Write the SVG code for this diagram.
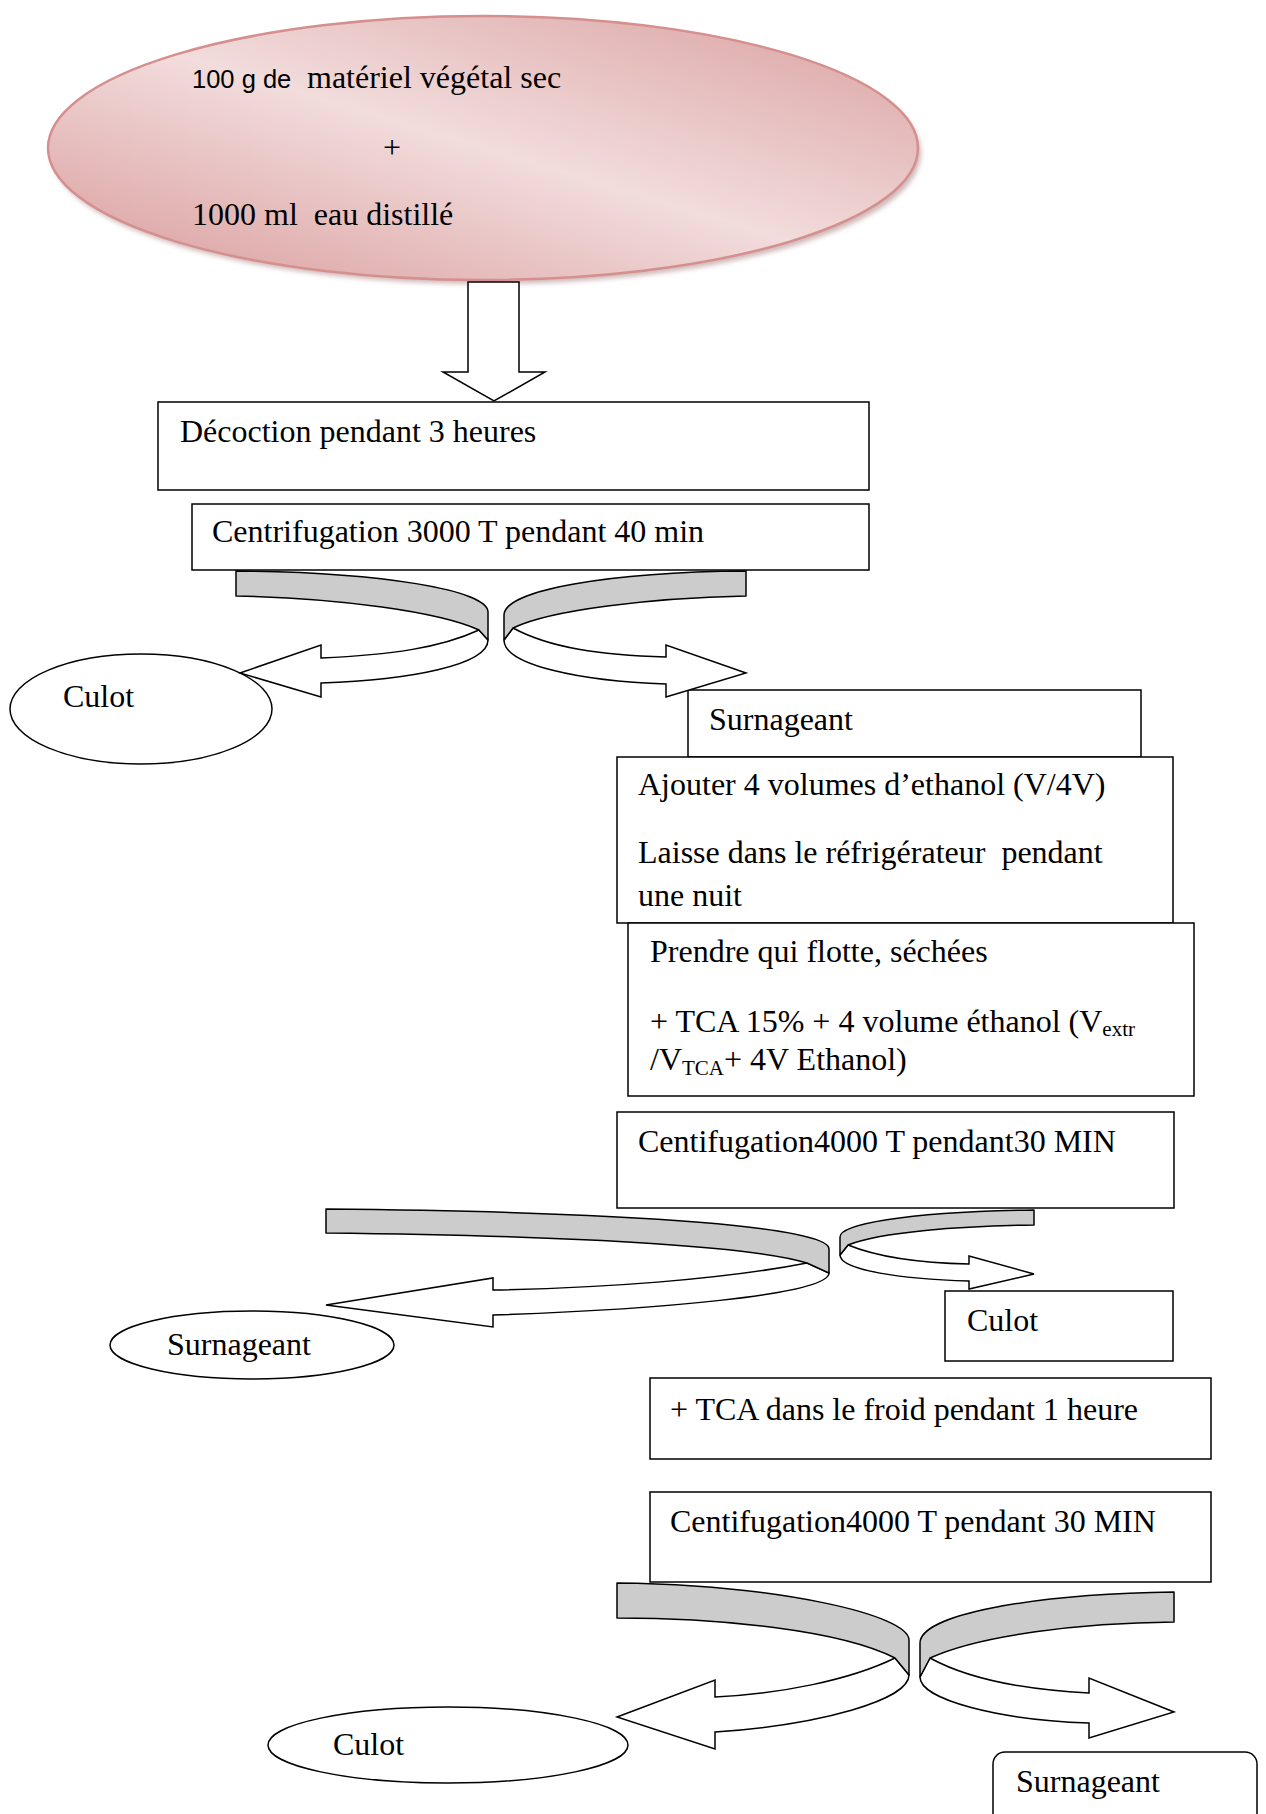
<svg xmlns="http://www.w3.org/2000/svg" width="1266" height="1814" viewBox="0 0 1266 1814">
<style>
text{font-family:"Liberation Serif","Times New Roman",serif;font-size:32px;fill:#000;white-space:pre}
.sans{font-family:"Liberation Sans",Arial,sans-serif;font-size:25.5px}
.sub{font-size:21px}
.box{fill:#fff;stroke:#000;stroke-width:1.5}
.band{fill:#cccccc;stroke:#000;stroke-width:1.5;stroke-linejoin:round}
.arr{fill:#fff;stroke:#000;stroke-width:1.5;stroke-linejoin:miter}
</style>
<defs>
<linearGradient id="pink" x1="0" y1="1" x2="1" y2="0">
<stop offset="0" stop-color="#d99a9a"/>
<stop offset="0.5" stop-color="#f2dcdc"/>
<stop offset="1" stop-color="#daa0a0"/>
</linearGradient>
<filter id="blur" x="-10%" y="-10%" width="120%" height="130%"><feGaussianBlur stdDeviation="2.5"/></filter>
</defs>
<rect width="1266" height="1814" fill="#fff"/>
<g id="start">
<ellipse cx="486" cy="153" rx="435" ry="131" fill="#a97c7b" opacity="0.55" filter="url(#blur)"/>
<ellipse cx="483" cy="148" rx="435" ry="132" fill="url(#pink)" stroke="#d58f8e" stroke-width="2.5"/>
<text x="192" y="88"><tspan class="sans">100 g de</tspan></text>
<text x="307" y="88">matériel végétal sec</text>
<text x="383" y="158">+</text>
<text x="192" y="225">1000 ml  eau distillé</text>
</g>
<g id="decoction">
<rect class="box" x="158" y="402" width="711" height="88"/>
<text x="180" y="442">Décoction pendant 3 heures</text>
</g>
<g id="centri1">
<rect class="box" x="192" y="504" width="677" height="66"/>
<text x="212" y="542">Centrifugation 3000 T pendant 40 min</text>
</g>
<g id="culot1">
<ellipse class="box" cx="141" cy="709" rx="131" ry="55"/>
<text x="63" y="707">Culot</text>
</g>
<g id="surn1">
<rect class="box" x="688" y="690" width="453" height="67"/>
<text x="709" y="730">Surnageant</text>
</g>
<g id="ajouter">
<rect class="box" x="617" y="757" width="556" height="166"/>
<text x="638" y="795">Ajouter 4 volumes d’ethanol (V/4V)</text>
<text x="638" y="863">Laisse dans le réfrigérateur  pendant</text>
<text x="638" y="906">une nuit</text>
</g>
<g id="prendre">
<rect class="box" x="628" y="923" width="566" height="173"/>
<text x="650" y="962">Prendre qui flotte, séchées</text>
<text x="650" y="1032">+ TCA 15% + 4 volume éthanol (V<tspan class="sub" dy="4">extr</tspan></text>
<text x="650" y="1070">/V<tspan class="sub" dy="5">TCA</tspan><tspan dy="-5">+ 4V Ethanol)</tspan></text>
</g>
<g id="centri2">
<rect class="box" x="617" y="1112" width="557" height="96"/>
<text x="638" y="1152">Centifugation4000 T pendant30 MIN</text>
</g>
<g id="surn2">
<ellipse class="box" cx="252" cy="1345" rx="142" ry="34"/>
<text x="167" y="1355">Surnageant</text>
</g>
<g id="culot2">
<rect class="box" x="945" y="1291" width="228" height="70"/>
<text x="967" y="1331">Culot</text>
</g>
<g id="tca">
<rect class="box" x="650" y="1378" width="561" height="81"/>
<text x="670" y="1420">+ TCA dans le froid pendant 1 heure</text>
</g>
<g id="centri3">
<rect class="box" x="650" y="1492" width="561" height="90"/>
<text x="670" y="1532">Centifugation4000 T pendant 30 MIN</text>
</g>
<g id="culot3">
<ellipse class="box" cx="448" cy="1745" rx="180" ry="38"/>
<text x="333" y="1755">Culot</text>
</g>
<g id="surn3">
<rect class="box" x="993" y="1752" width="264" height="90" rx="12" ry="12"/>
<text x="1016" y="1792">Surnageant</text>
</g>
<g id="connectors">
<path class="arr" d="M468,282 L519,282 L519,372 L545,372 L494,401 L443,372 L468,372 Z"/>
<path class="arr" d="M479,630 C440,648 390,655 321,658 L321,645 L240,673 L321,697 L321,683 C410,680 488,665 488,640 Z"/>
<path class="band" d="M236,571 C380,572 488,590 488,612 L488,640 L479,630 C440,612 340,598 236,596 Z"/>
<path class="arr" d="M513,628 C550,648 600,655 666,657 L666,645 L746,673 L666,697 L666,684 C580,681 504,665 504,640 Z"/>
<path class="band" d="M746,571 C610,572 504,590 504,615 L504,640 L513,628 C550,610 650,598 746,596 Z"/>
<path class="arr" d="M807,1263 C720,1280 600,1288 493,1290 L493,1278 L326,1305 L493,1327 L493,1315 C650,1310 829,1295 829,1273 Z"/>
<path class="band" d="M326,1209 C650,1212 829,1228 829,1249 L829,1273 L807,1263 C760,1248 600,1236 326,1233 Z"/>
<path class="arr" d="M848,1245 C880,1258 920,1263 969,1264 L969,1256 L1034,1274 L969,1289 L969,1281 C900,1279 840,1270 840,1255 Z"/>
<path class="band" d="M1034,1210 C900,1212 840,1225 840,1237 L840,1255 L848,1245 C880,1232 960,1226 1034,1225 Z"/>
<path class="arr" d="M895,1658 C850,1680 780,1694 715,1697 L715,1680 L617,1717 L715,1749 L715,1732 C820,1725 909,1700 909,1675 Z"/>
<path class="band" d="M617,1583 C780,1585 909,1615 909,1640 L909,1675 L895,1658 C840,1630 720,1618 617,1618 Z"/>
<path class="arr" d="M930,1658 C970,1680 1030,1690 1089,1693 L1089,1678 L1174,1712 L1089,1738 L1089,1723 C1000,1720 920,1700 920,1677 Z"/>
<path class="band" d="M1174,1592 C1030,1594 920,1615 920,1643 L920,1677 L930,1658 C980,1635 1080,1623 1174,1622 Z"/>
</g>
</svg>
